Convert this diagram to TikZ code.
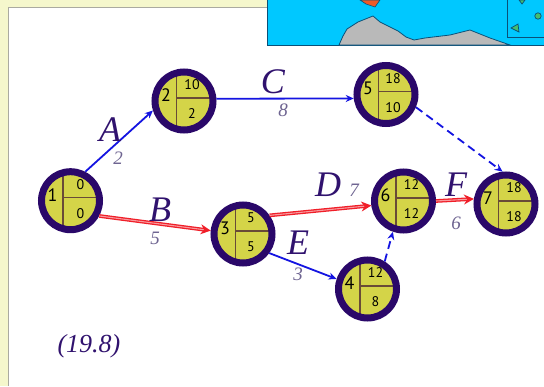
\documentclass[tikz,border=0pt]{standalone}
\usepackage{fontspec}
\setmainfont{Liberation Serif}
\newfontfamily\numfont{PT Sans}
\definecolor{panelyellow}{RGB}{245,247,204}
\definecolor{panelgray}{RGB}{170,170,160}
\definecolor{seacyan}{RGB}{0,200,255}
\definecolor{landgray}{RGB}{185,185,185}
\definecolor{coastblue}{RGB}{10,80,120}
\definecolor{islandorange}{RGB}{240,90,40}
\definecolor{islandgreen}{RGB}{70,190,110}
\definecolor{ringpurple}{RGB}{42,8,105}
\definecolor{nodeyellow}{RGB}{212,212,72}
\definecolor{dividerbrown}{RGB}{105,75,55}
\definecolor{letterpurple}{RGB}{48,18,110}
\definecolor{weightgray}{RGB}{110,100,145}
\definecolor{arrowblue}{RGB}{20,20,225}
\definecolor{arrowred}{RGB}{240,30,40}
\usepackage{tikz}
\usetikzlibrary{arrows.meta}
\tikzset{
  numtext/.style={font=\numfont\fontsize{14}{14}\selectfont,text=black,inner sep=0pt},
  eventnode/.style n args={4}{circle,draw=ringpurple,line width=7pt,fill=nodeyellow,
    minimum size=58pt,inner sep=0pt,
    path picture={
      \draw[dividerbrown,line width=1.1pt]
        ([xshift=-7.5pt,yshift=40pt]path picture bounding box.center) --
        ([xshift=-7.5pt,yshift=-40pt]path picture bounding box.center);
      \draw[dividerbrown,line width=1.1pt]
        ([xshift=-7.5pt,yshift=3pt]path picture bounding box.center) --
        ([xshift=40pt,yshift=3pt]path picture bounding box.center);
    },
    label={[numtext,font=\numfont\fontsize{18}{18}\selectfont,xshift=-18pt,yshift=6pt]center:#1},
    label={[numtext,xshift=#4,yshift=16pt]center:#2},
    label={[numtext,xshift=#4,yshift=-13pt]center:#3}},
  bluearrow/.style={arrowblue,line width=1.8pt,-{Stealth[length=8pt,width=7pt]}},
  redarrow/.style={arrowred,line width=1.3pt,double=arrowred!45,double distance=1.1pt,
    -{Stealth[length=10pt,width=10pt]}},
  dasharrow/.style={bluearrow,dash pattern=on 8pt off 5pt},
  activity/.style={font=\itshape\fontsize{36}{36}\selectfont,text=letterpurple,inner sep=0pt},
  weight/.style={font=\itshape\fontsize{19}{19}\selectfont,text=weightgray,inner sep=0pt}
}
\begin{document}
\begin{tikzpicture}[x=1pt,y=-1pt]
\useasboundingbox (0,0) rectangle (544,386);
\fill[panelyellow] (0,0) rectangle (544,386);
\fill[white] (8,7) rectangle (544,386);
\draw[panelgray,line width=0.8pt] (8,386) -- (8,7) -- (544,7);

\fill[seacyan] (267,0) rectangle (544,45);
\draw[coastblue,line width=0.8pt] (267,0) -- (267,45) -- (544,45);
\filldraw[fill=landgray,draw=coastblue,line width=0.8pt] (339,45) -- (343,36) -- (347,29) -- (358,22) -- (373,16)
  -- (380,22) -- (398,31) -- (406,37) -- (414,40) -- (425,38) -- (450,35) -- (470,30) -- (490,38) -- (510,45) -- cycle;
\filldraw[fill=islandorange,draw=coastblue,line width=0.6pt] (360,0) -- (366,4) -- (375,7) -- (380,0) -- cycle;
\draw[coastblue,line width=0.9pt] (507,0) -- (507,37) -- (544,37);
\filldraw[fill=islandgreen,draw=coastblue,line width=0.7pt] (519,0) -- (525,0) -- (522,4) -- cycle;
\filldraw[fill=islandgreen,draw=coastblue,line width=0.7pt] (538,16) circle (3.2);
\filldraw[fill=islandgreen,draw=coastblue,line width=0.7pt] (511,28) -- (518,24) -- (519,32) -- cycle;

\node[eventnode={1}{0}{0}{10pt}] (n1) at (70.5,200.7) {};
\node[eventnode={2}{10}{2}{8pt}] (n2) at (184,101) {};
\node[eventnode={3}{5}{5}{8pt}] (n3) at (243,234) {};
\node[eventnode={4}{12}{8}{8pt}] (n4) at (367.5,289) {};
\node[eventnode={5}{18}{10}{7pt}] (n5) at (386,94.5) {};
\node[eventnode={6}{12}{12}{8pt}] (n6) at (403.5,201) {};
\node[eventnode={7}{18}{18}{8pt}] (n7) at (506,204) {};

\draw[bluearrow] (n1.63) -- (n2.197);
\draw[bluearrow] (n2.4) -- (n5.187);
\draw[bluearrow] (n3.-36) -- (n4.162);
\draw[dasharrow] (n5.-23) -- (n7.96);
\draw[dasharrow] (n4.58) -- (n6.251);
\draw[redarrow] (n1.-28) -- (n3.174);
\draw[redarrow] (n3.35) -- (n6.188);
\draw[redarrow] (n6.0) -- (n7.171);

\node[activity] (la) at (110,130) {A};
\node[activity] (lb) at (160,210) {B};
\node[activity] (lc) at (273,82) {C};
\node[activity] (ld) at (328,185) {D};
\node[activity] (le) at (298,243) {E};
\node[activity] (lf) at (456,185) {F};
\node[weight] (wa) at (118,158) {2};
\node[weight] (wb) at (155,238) {5};
\node[weight] (wc) at (283,110) {8};
\node[weight] (wd) at (354,190) {7};
\node[weight] (we) at (298,274) {3};
\node[weight] (wf) at (456,223) {6};
\node[font=\itshape\fontsize{26}{26}\selectfont,text=letterpurple,inner sep=0pt] (eqno) at (89,346) {(19.8)};
\end{tikzpicture}
\end{document}
